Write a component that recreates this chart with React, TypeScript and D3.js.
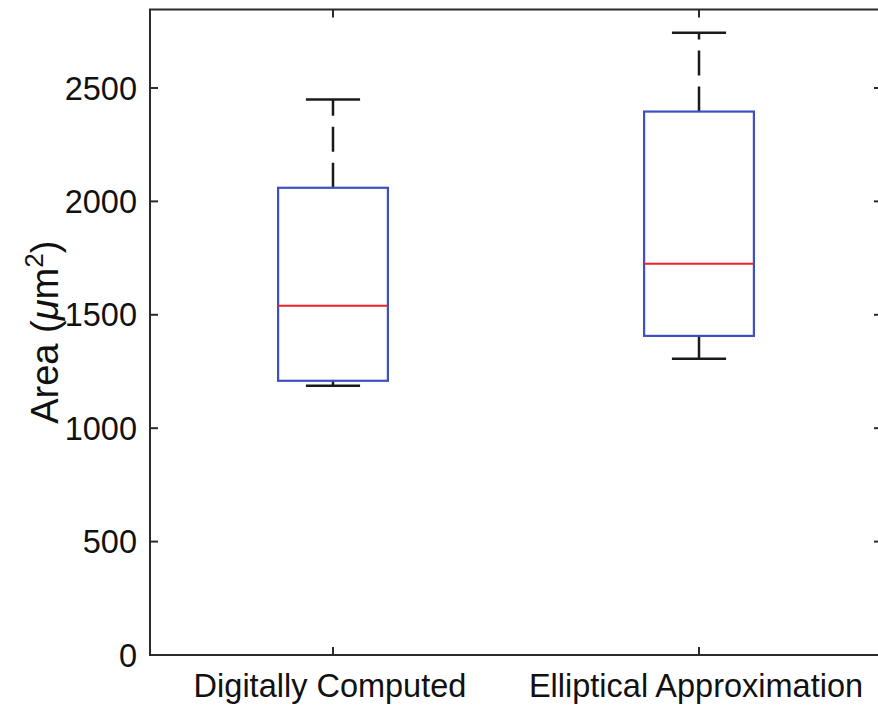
import React, { useEffect, useRef } from 'react';
import * as d3 from 'd3';

const categories = ['Digitally Computed', 'Elliptical Approximation'];
const whiskerLow = [1187, 1306];
const q1 = [1209, 1407];
const median = [1540, 1725];
const q3 = [2060, 2396];
const whiskerHigh = [2449, 2744];
const yTicks = [0, 500, 1000, 1500, 2000, 2500];

export default function App() {
    const ref = useRef<SVGSVGElement>(null);

    useEffect(() => {
        const svg = d3.select(ref.current);
        svg.selectAll('*').remove();

        // plot box, right edge runs just past the picture
        const left = 150, right = 882, top = 9.5, bottom = 655;
        const font = 'Liberation Sans, Arial, Helvetica, sans-serif';

        const x = d3.scaleLinear().domain([0.5, 2.5]).range([left, right]);
        const y = d3.scaleLinear().domain([0, 2846]).range([bottom, top]);
        const boxHalf = 0.15;
        const capHalf = 0.074;
        const tickLen = 8;

        // boxes
        const g = svg.append('g');
        categories.forEach((c, i) => {
            const cx = x(i + 1);
            // whiskers (dashed, drawn outward from the box)
            g.append('line')
                .attr('x1', cx).attr('x2', cx)
                .attr('y1', y(q3[i])).attr('y2', y(whiskerHigh[i]))
                .attr('stroke', '#1a1a1a').attr('stroke-width', 2.5)
                .attr('stroke-dasharray', '25,11');
            g.append('line')
                .attr('x1', cx).attr('x2', cx)
                .attr('y1', y(q1[i])).attr('y2', y(whiskerLow[i]))
                .attr('stroke', '#1a1a1a').attr('stroke-width', 2.5)
                .attr('stroke-dasharray', '25,11');
            // caps
            [whiskerHigh[i], whiskerLow[i]].forEach(v => {
                g.append('line')
                    .attr('x1', x(i + 1 - capHalf)).attr('x2', x(i + 1 + capHalf))
                    .attr('y1', y(v)).attr('y2', y(v))
                    .attr('stroke', '#1a1a1a').attr('stroke-width', 2.5);
            });
            // box
            g.append('rect')
                .attr('x', x(i + 1 - boxHalf))
                .attr('y', y(q3[i]))
                .attr('width', x(i + 1 + boxHalf) - x(i + 1 - boxHalf))
                .attr('height', y(q1[i]) - y(q3[i]))
                .attr('fill', 'none')
                .attr('stroke', '#3d50c3').attr('stroke-width', 2.2);
            // median
            g.append('line')
                .attr('x1', x(i + 1 - boxHalf)).attr('x2', x(i + 1 + boxHalf))
                .attr('y1', y(median[i])).attr('y2', y(median[i]))
                .attr('stroke', '#f0202a').attr('stroke-width', 2);
        });

        // axes frame
        const axisColor = '#2b2b2b';
        svg.append('rect')
            .attr('x', left).attr('y', top)
            .attr('width', right - left).attr('height', bottom - top)
            .attr('fill', 'none').attr('stroke', axisColor).attr('stroke-width', 2);

        // y ticks, left and mirrored right
        yTicks.forEach(t => {
            svg.append('line')
                .attr('x1', left).attr('x2', left + tickLen)
                .attr('y1', y(t)).attr('y2', y(t))
                .attr('stroke', axisColor).attr('stroke-width', 2);
            svg.append('line')
                .attr('x1', right).attr('x2', right - tickLen)
                .attr('y1', y(t)).attr('y2', y(t))
                .attr('stroke', axisColor).attr('stroke-width', 2);
            svg.append('text')
                .attr('x', left - 13).attr('y', y(t))
                .attr('dy', '0.36em')
                .attr('text-anchor', 'end')
                .attr('font-family', font).attr('font-size', 32.5)
                .attr('fill', '#111')
                .text(t);
        });

        // x ticks, bottom and mirrored top
        categories.forEach((c, i) => {
            const cx = x(i + 1);
            svg.append('line')
                .attr('x1', cx).attr('x2', cx)
                .attr('y1', bottom).attr('y2', bottom - tickLen)
                .attr('stroke', axisColor).attr('stroke-width', 2);
            svg.append('line')
                .attr('x1', cx).attr('x2', cx)
                .attr('y1', top).attr('y2', top + tickLen)
                .attr('stroke', axisColor).attr('stroke-width', 2);
            svg.append('text')
                .attr('x', cx - 3).attr('y', 697)
                .attr('text-anchor', 'middle')
                .attr('font-family', font).attr('font-size', 32.5)
                .attr('fill', '#111')
                .text(c);
        });

        // y label
        const lab = svg.append('text')
            .attr('transform', 'translate(58,' + ((top + bottom) / 2) + ') rotate(-90)')
            .attr('text-anchor', 'middle')
            .attr('font-family', font).attr('font-size', 38)
            .attr('fill', '#111');
        lab.append('tspan').text('Area (');
        lab.append('tspan').attr('font-style', 'italic').text('\u03bc');
        lab.append('tspan').text('m');
        lab.append('tspan').attr('font-size', 26).attr('dy', -15).text('2');
        lab.append('tspan').attr('dy', 15).text(')');
    }, []);

    return (
        <svg ref={ref} width={878} height={708}
            style={{ position: 'absolute', left: 0, top: 0, background: '#fff' }} />
    );
}
